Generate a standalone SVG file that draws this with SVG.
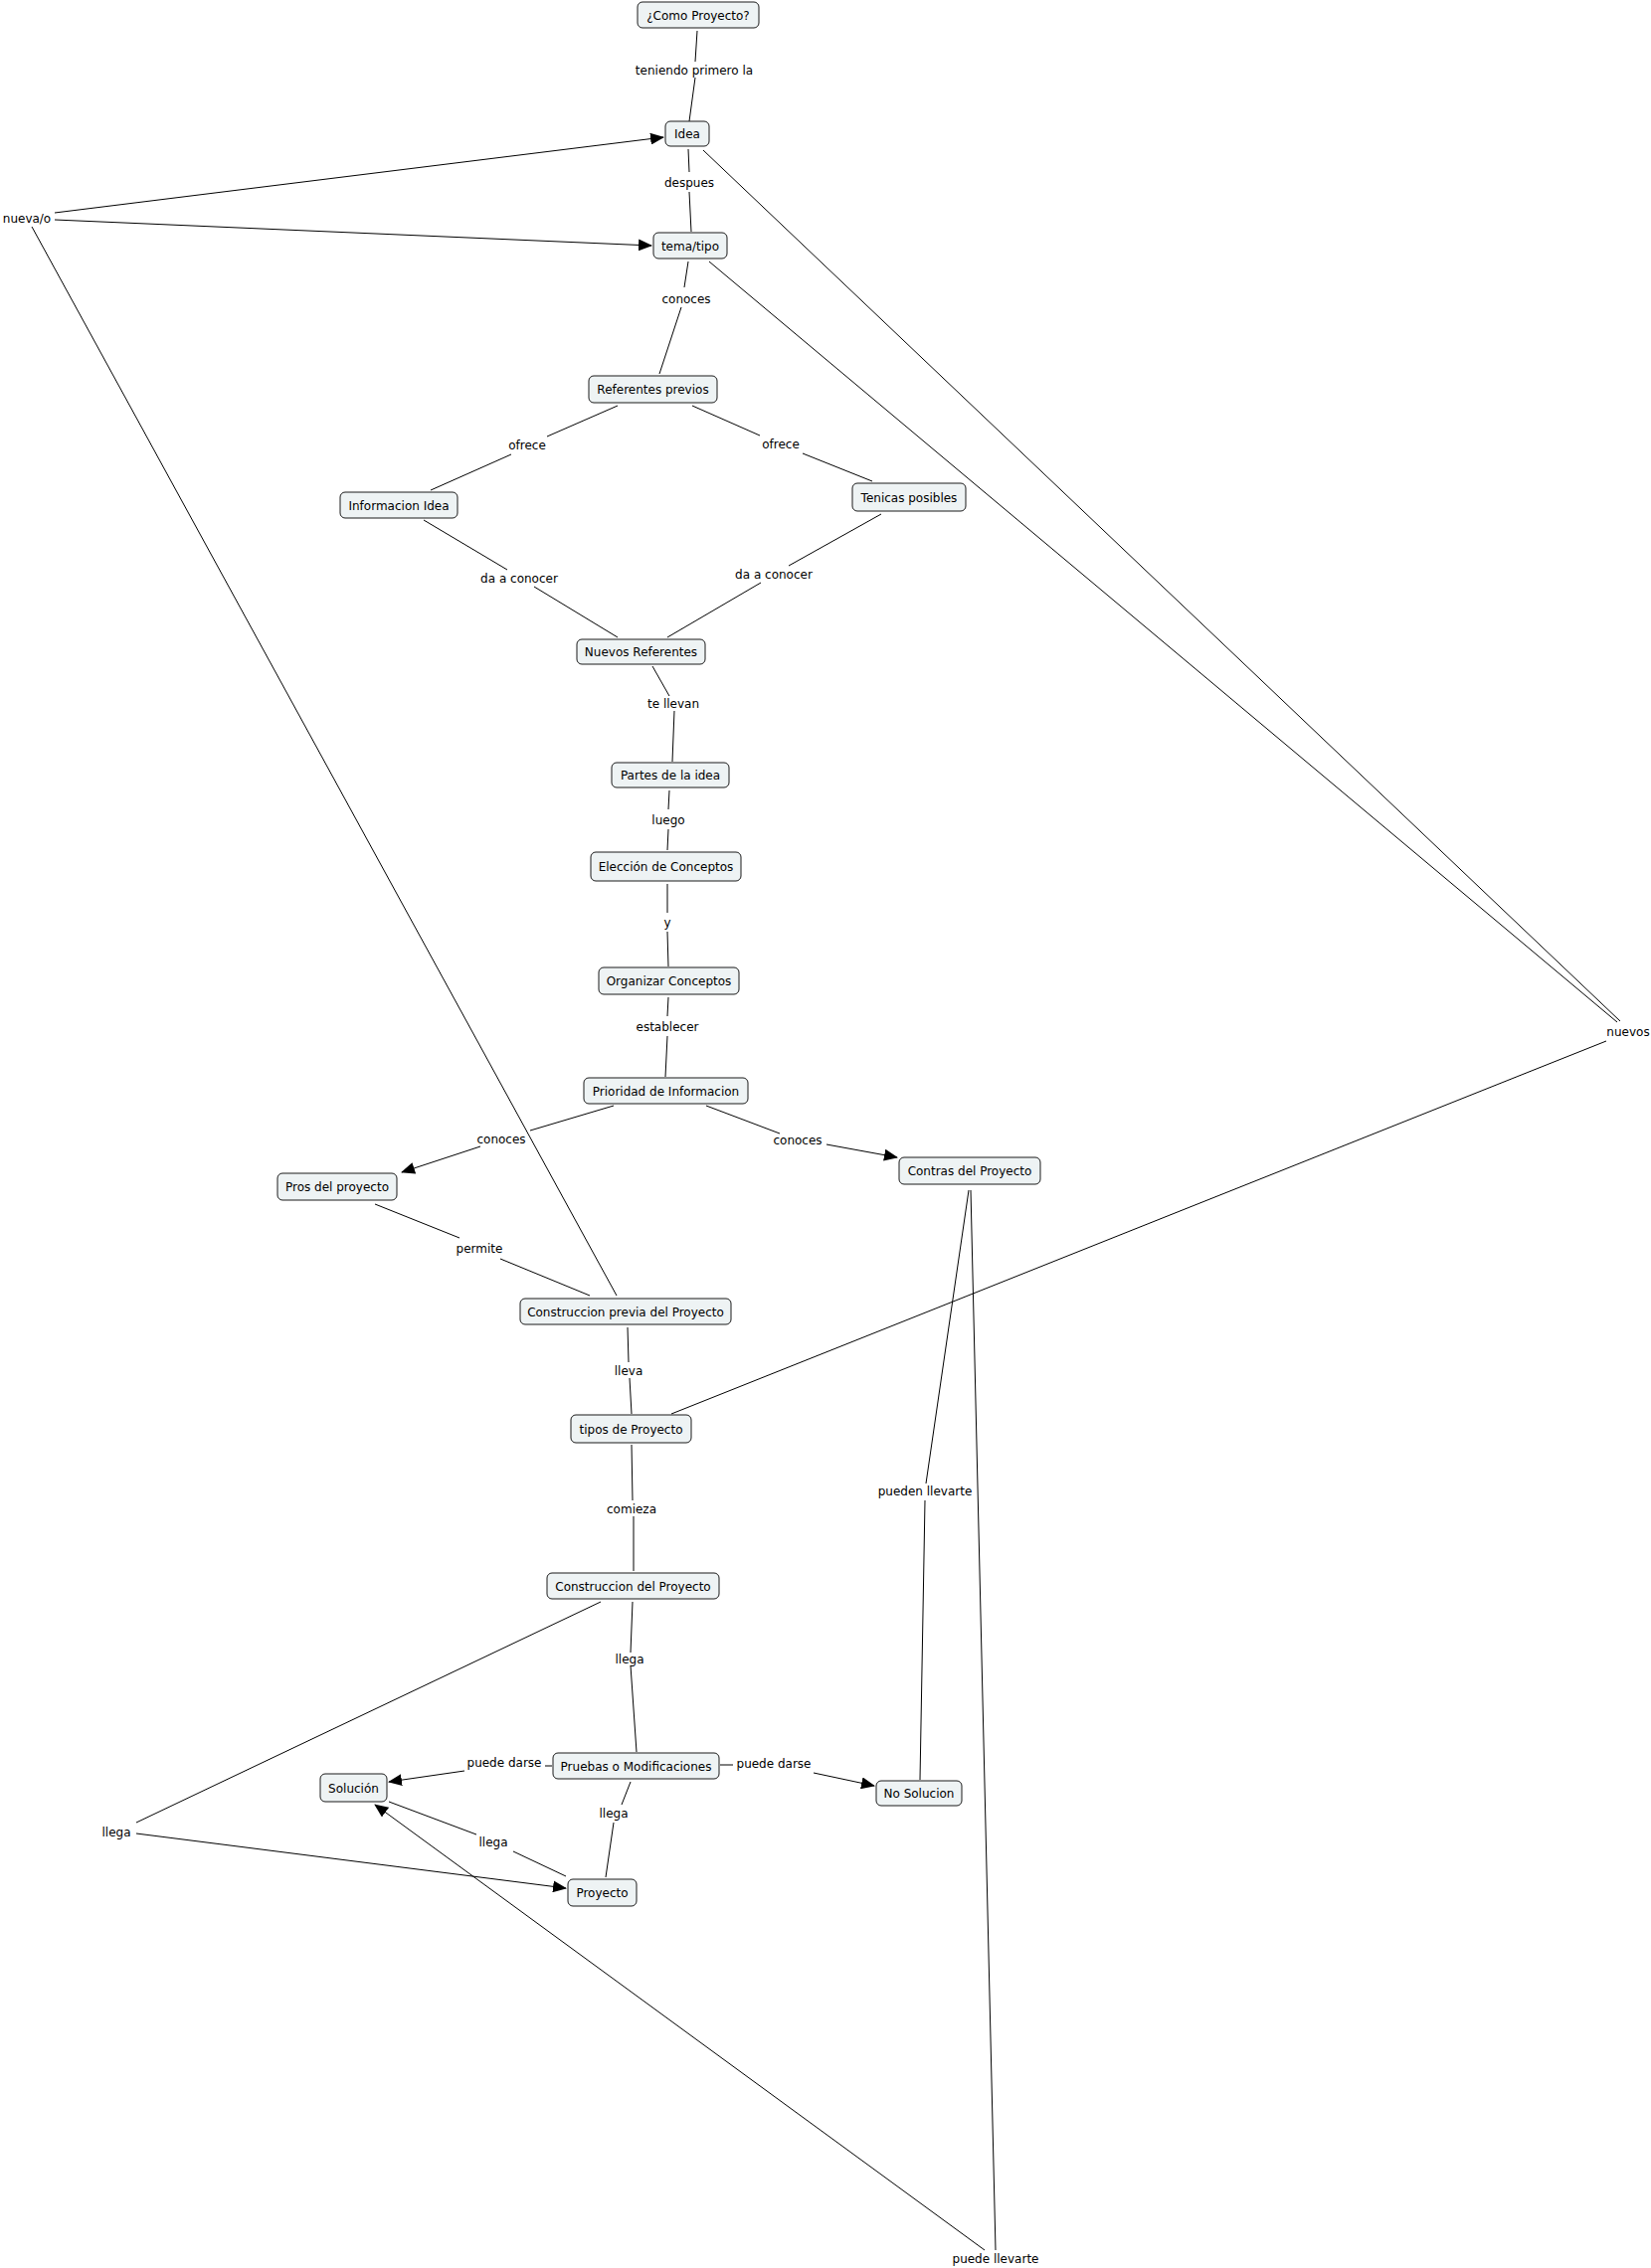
<svg xmlns="http://www.w3.org/2000/svg" width="1660" height="2281" viewBox="0 0 1660 2281">
<style>
.n rect{fill:#eef3f4;stroke:#1a1a1a;stroke-width:1}
text{font-family:"DejaVu Sans",Verdana,sans-serif;font-size:12px;fill:#000;text-anchor:middle}
.c line{stroke:#000;stroke-width:1;fill:none}
.c .a{marker-end:url(#ah)}
</style>
<defs>
<marker id="ah" markerUnits="userSpaceOnUse" markerWidth="14" markerHeight="12" viewBox="0 0 14 12" refX="13" refY="6" orient="auto">
<path d="M0,0 L14,6 L0,12 z" fill="#000"/>
</marker>
</defs>
<rect width="1660" height="2281" fill="#fff"/>
<g class="c" id="connectors">
<line x1="701" y1="31" x2="699" y2="62"/>
<line x1="699" y1="78" x2="693" y2="122"/>
<line x1="692" y1="150" x2="693" y2="173"/>
<line x1="693" y1="193" x2="695" y2="233"/>
<line x1="692" y1="263" x2="688" y2="289"/>
<line x1="685" y1="309" x2="663" y2="376"/>
<line x1="621" y1="408" x2="550" y2="439"/>
<line x1="514" y1="457" x2="433" y2="493"/>
<line x1="696" y1="408" x2="764" y2="438"/>
<line x1="807" y1="456" x2="877" y2="484"/>
<line x1="426" y1="523" x2="510" y2="573"/>
<line x1="537" y1="590" x2="621" y2="641"/>
<line x1="886" y1="517" x2="793" y2="569"/>
<line x1="765" y1="586" x2="671" y2="641"/>
<line x1="656" y1="670" x2="673" y2="700"/>
<line x1="678" y1="715" x2="676" y2="766"/>
<line x1="673" y1="795" x2="672" y2="814"/>
<line x1="672" y1="834" x2="671" y2="855"/>
<line x1="671" y1="889" x2="671" y2="918"/>
<line x1="671" y1="937" x2="672" y2="972"/>
<line x1="672" y1="1003" x2="671" y2="1022"/>
<line x1="671" y1="1042" x2="669" y2="1083"/>
<line x1="617" y1="1112" x2="533" y2="1137"/>
<line class="a" x1="483" y1="1153" x2="404" y2="1179"/>
<line x1="710" y1="1112" x2="784" y2="1140"/>
<line class="a" x1="831" y1="1151" x2="902" y2="1164"/>
<line x1="377" y1="1211" x2="462" y2="1245"/>
<line x1="503" y1="1266" x2="593" y2="1303"/>
<line x1="631" y1="1335" x2="632" y2="1370"/>
<line x1="633" y1="1386" x2="635" y2="1422"/>
<line x1="635" y1="1453" x2="636" y2="1509"/>
<line x1="637" y1="1525" x2="637" y2="1580"/>
<line x1="636" y1="1611" x2="634" y2="1662"/>
<line x1="634" y1="1675" x2="640" y2="1762"/>
<line x1="555" y1="1776" x2="548" y2="1776"/>
<line class="a" x1="467" y1="1781" x2="391" y2="1792"/>
<line x1="724" y1="1775" x2="737" y2="1775"/>
<line class="a" x1="818" y1="1783" x2="879" y2="1796"/>
<line x1="634" y1="1792" x2="625" y2="1815"/>
<line x1="617" y1="1833" x2="609" y2="1888"/>
<line x1="569" y1="1887" x2="516" y2="1862"/>
<line x1="479" y1="1845" x2="391" y2="1812"/>
<line x1="604" y1="1611" x2="137" y2="1833"/>
<line class="a" x1="137" y1="1844" x2="569" y2="1899"/>
<line class="a" x1="55" y1="214" x2="667" y2="138"/>
<line class="a" x1="55" y1="221" x2="655" y2="247"/>
<line x1="32" y1="228" x2="620" y2="1303"/>
<line x1="707" y1="151" x2="1629" y2="1027"/>
<line x1="713" y1="263" x2="1626" y2="1028"/>
<line x1="1615" y1="1047" x2="675" y2="1422"/>
<line x1="974" y1="1197" x2="931" y2="1492"/>
<line x1="930" y1="1509" x2="925" y2="1790"/>
<line x1="976" y1="1197" x2="1001" y2="2263"/>
<line class="a" x1="990" y1="2263" x2="377" y2="1815"/>
</g>
<g id="labels">
<text x="698" y="74.5">teniendo primero la</text>
<text x="693" y="187.5">despues</text>
<text x="690" y="304.5">conoces</text>
<text x="530" y="451.5">ofrece</text>
<text x="785" y="450.5">ofrece</text>
<text x="522" y="585.5">da a conocer</text>
<text x="778" y="581.5">da a conocer</text>
<text x="677" y="711.5">te llevan</text>
<text x="672" y="828.5">luego</text>
<text x="671" y="931.5">y</text>
<text x="671" y="1036.5">establecer</text>
<text x="504" y="1149.5">conoces</text>
<text x="802" y="1150.5">conoces</text>
<text x="482" y="1259.5">permite</text>
<text x="632" y="1382.5">lleva</text>
<text x="635" y="1521.5">comieza</text>
<text x="633" y="1672.5">llega</text>
<text x="507" y="1776.5">puede darse</text>
<text x="778" y="1777.5">puede darse</text>
<text x="617" y="1827.5">llega</text>
<text x="496" y="1856.5">llega</text>
<text x="930" y="1503.5">pueden llevarte</text>
<text x="27" y="223.5">nueva/o</text>
<text x="1637" y="1041.5">nuevos</text>
<text x="117" y="1846.5">llega</text>
<text x="1001" y="2275.5">puede llevarte</text>
</g>
<g class="n" id="n-como"><rect x="641" y="2" width="122" height="26" rx="5"/><text x="702" y="19.5">¿Como Proyecto?</text></g>
<g class="n" id="n-idea"><rect x="669" y="122" width="44" height="25" rx="5"/><text x="691" y="139">Idea</text></g>
<g class="n" id="n-tema"><rect x="657" y="234" width="74" height="26" rx="5"/><text x="694" y="251.5">tema/tipo</text></g>
<g class="n" id="n-refprev"><rect x="592" y="378" width="129" height="27" rx="5"/><text x="656.5" y="396">Referentes previos</text></g>
<g class="n" id="n-infoidea"><rect x="342" y="495" width="118" height="26" rx="5"/><text x="401" y="512.5">Informacion Idea</text></g>
<g class="n" id="n-tenicas"><rect x="857" y="486" width="114" height="28" rx="5"/><text x="914" y="504.5">Tenicas posibles</text></g>
<g class="n" id="n-nuevosref"><rect x="580" y="643" width="129" height="25" rx="5"/><text x="644.5" y="660">Nuevos Referentes</text></g>
<g class="n" id="n-partes"><rect x="615" y="767" width="118" height="25" rx="5"/><text x="674" y="784">Partes de la idea</text></g>
<g class="n" id="n-eleccion"><rect x="594" y="857" width="151" height="29" rx="5"/><text x="669.5" y="876">Elección de Conceptos</text></g>
<g class="n" id="n-organizar"><rect x="602" y="973" width="141" height="27" rx="5"/><text x="672.5" y="991">Organizar Conceptos</text></g>
<g class="n" id="n-prioridad"><rect x="587" y="1084" width="165" height="26" rx="5"/><text x="669.5" y="1101.5">Prioridad de Informacion</text></g>
<g class="n" id="n-pros"><rect x="279" y="1180" width="120" height="27" rx="5"/><text x="339" y="1198">Pros del proyecto</text></g>
<g class="n" id="n-contras"><rect x="904" y="1164" width="142" height="27" rx="5"/><text x="975" y="1182">Contras del Proyecto</text></g>
<g class="n" id="n-constrprev"><rect x="523" y="1306" width="212" height="26" rx="5"/><text x="629" y="1323.5">Construccion previa del Proyecto</text></g>
<g class="n" id="n-tipos"><rect x="574" y="1423" width="121" height="28" rx="5"/><text x="634.5" y="1441.5">tipos de Proyecto</text></g>
<g class="n" id="n-constr"><rect x="550" y="1582" width="173" height="26" rx="5"/><text x="636.5" y="1599.5">Construccion del Proyecto</text></g>
<g class="n" id="n-pruebas"><rect x="556" y="1763" width="167" height="26" rx="5"/><text x="639.5" y="1780.5">Pruebas o Modificaciones</text></g>
<g class="n" id="n-solucion"><rect x="322" y="1784" width="67" height="28" rx="5"/><text x="355.5" y="1802.5">Solución</text></g>
<g class="n" id="n-nosol"><rect x="881" y="1791" width="86" height="25" rx="5"/><text x="924" y="1808">No Solucion</text></g>
<g class="n" id="n-proyecto"><rect x="571" y="1890" width="69" height="27" rx="5"/><text x="605.5" y="1908">Proyecto</text></g>
</svg>
